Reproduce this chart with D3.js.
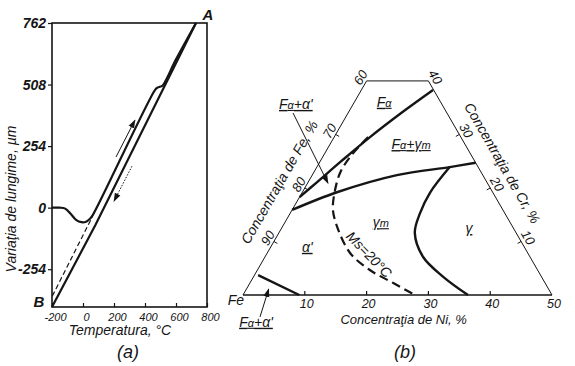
<!DOCTYPE html>
<html>
<head>
<meta charset="utf-8">
<style>
  body { margin: 0; background: #fff; }
  svg { display: block; font-family: "Liberation Sans", Arial, sans-serif; font-style: italic; }
</style>
<script src="https://d3js.org/d3.v7.min.js"></script>
</head>
<body>
<svg id="fig" width="575" height="366"></svg>
<script>
// ---- panel (a): dilatometer curve ----
const tempTicks = [-200, 0, 200, 400, 600, 800];
const lenTicks = [-254, 0, 254, 508, 762];
// heating: starts at B level 0, dip near 0 C, straight, small step near 480 C, ends at A
const heating = [[-200, 0], [-150, 0], [-115, -4], [-80, -25], [-45, -50], [-10, -60], [20, -58],
                 [45, -46], [62, -32], [465, 486], [480, 495], [496, 499], [512, 503], [600, 612], [729, 762]];
const cooling = [[729, 762], [80, -72], [-200, -410]];
const dashedExt = [[-198, -365], [60, -38]];
const upArrow = [[213, 209], [335, 361]];
const downArrow = [[316, 171], [200, 27]];

// ---- panel (b): Fe-Cr-Ni section, points as [Ni %, Cr %] ----
const niTicks = [10, 20, 30, 40, 50];
const crTicks = [10, 20, 30, 40];
const feTicks = [90, 80, 70, 60];
const outline = [[0, 0], [50, 0], [10, 40], [0, 40]];
const faLine = [[11.6, 38.3], [8.6, 34], [5.8, 29.5], [3.4, 25], [1.4, 21], [0, 18.3]];
const gmLine = [[25.3, 24.7], [21.5, 23.9], [13.7, 22.4], [5.6, 19.2], [0, 15.9]];
const msLine = [[5.5, 29.5], [4.5, 26.2], [4.3, 22.8], [5.4, 18.7], [6.6, 15.9], [8.9, 12.7],
                [13.4, 7.85], [18.2, 4.67], [23.2, 2.24], [27.8, 0]];
const gammaLine = [[21.5, 23.9], [20.7, 19.1], [21.0, 15.3], [22.0, 11.6], [25.6, 7.1], [30.7, 3.4], [36.4, 0]];
const smallLine = [[0.6, 3.7], [9.1, 0]];
const bArrows = [[[-8.9, 34.0], [3.3, 20.9]], [[4.8, -4.1], [3.6, 1.1]]];
const regionLabels = [
  {parts: [['F'], ['α', 'sub']], at: [4.8, 36.1]},
  {parts: [['F'], ['α', 'sub'], ['+'], ['γ'], ['m', 'sub']], at: [13.1, 28.2]},
  {parts: [['γ'], ['m', 'sub']], at: [15.5, 13.6]},
  {parts: [['γ']], at: [30.3, 12.5]},
  {parts: [['α\'']], at: [5.9, 9.0]},
  {parts: [['F'], ['α', 'sub'], ['+'], ['α\'']], at: [-9.3, 35.7]},
  {parts: [['F'], ['α', 'sub'], ['+'], ['α\'']], at: [4.6, -5.0]}
];

const svg = d3.select('#fig');
const ink = '#151515';

svg.append('defs').append('marker')
  .attr('id', 'arr').attr('viewBox', '0 -4 10 8').attr('refX', 9).attr('refY', 0)
  .attr('markerUnits', 'userSpaceOnUse').attr('markerWidth', 9).attr('markerHeight', 7)
  .attr('orient', 'auto')
  .append('path').attr('d', 'M0,-3.5L10,0L0,3.5Z').attr('fill', ink);

// ---------- (a) ----------
const xA = d3.scaleLinear().domain([-200, 800]).range([52, 207]);
const yA = d3.scaleLinear().domain([-410, 762]).range([307, 23]);
const gA = svg.append('g');

gA.append('rect')
  .attr('x', xA(-200)).attr('y', yA(762))
  .attr('width', xA(800) - xA(-200)).attr('height', yA(-410) - yA(762))
  .attr('fill', 'none').attr('stroke', ink).attr('stroke-width', 1.6);

const axL = gA.append('g').attr('transform', `translate(${xA(-200)},0)`)
  .call(d3.axisLeft(yA).tickValues(lenTicks).tickSize(4).tickPadding(2).tickFormat(d => String(d)));
axL.select('.domain').remove();
axL.attr('font-family', null).attr('font-size', null);
axL.selectAll('line').attr('stroke', ink).attr('stroke-width', 1.2);
axL.selectAll('text').attr('font-size', 14).attr('font-weight', 'bold').attr('fill', ink);

const axB = gA.append('g').attr('transform', `translate(0,${yA(-410)})`)
  .call(d3.axisBottom(xA).tickValues(tempTicks).tickSize(-4).tickPadding(6).tickFormat(d => String(d)));
axB.select('.domain').remove();
axB.attr('font-family', null).attr('font-size', null);
axB.selectAll('line').attr('stroke', ink).attr('stroke-width', 1.2);
axB.selectAll('text').attr('font-size', 11).attr('dx', 3).attr('fill', ink);

const lineA = d3.line().x(d => xA(d[0])).y(d => yA(d[1]));
gA.append('path').datum(dashedExt).attr('d', lineA)
  .attr('fill', 'none').attr('stroke', ink).attr('stroke-width', 1.2).attr('stroke-dasharray', '5,3');
gA.append('path').datum(heating).attr('d', d3.line().x(d => xA(d[0])).y(d => yA(d[1])).curve(d3.curveCatmullRom))
  .attr('fill', 'none').attr('stroke', ink).attr('stroke-width', 2.2);
gA.append('path').datum(cooling).attr('d', lineA)
  .attr('fill', 'none').attr('stroke', ink).attr('stroke-width', 2.2);
gA.append('path').datum(upArrow).attr('d', lineA)
  .attr('fill', 'none').attr('stroke', ink).attr('stroke-width', 1).attr('marker-end', 'url(#arr)');
gA.append('path').datum(downArrow).attr('d', lineA)
  .attr('fill', 'none').attr('stroke', ink).attr('stroke-width', 1).attr('stroke-dasharray', '1.5,1.5')
  .attr('marker-end', 'url(#arr)');

gA.append('text').attr('x', xA(729) + 12).attr('y', yA(762) - 3).attr('text-anchor', 'middle')
  .attr('font-size', 15).attr('font-weight', 'bold').attr('fill', ink).text('A');
gA.append('text').attr('x', xA(-200) - 13).attr('y', yA(-410)).attr('text-anchor', 'middle')
  .attr('font-size', 15).attr('font-weight', 'bold').attr('fill', ink).text('B');
gA.append('text').attr('transform', `translate(16,${(yA(762) + yA(-410)) / 2 + 34}) rotate(-90)`)
  .attr('text-anchor', 'middle').attr('font-size', 14).attr('fill', ink).text('Variaţia de lungime, µm');
gA.append('text').attr('x', 120).attr('y', 335).attr('text-anchor', 'middle')
  .attr('font-size', 14).attr('fill', ink).text('Temperatura, °C');
gA.append('text').attr('x', 128).attr('y', 358).attr('text-anchor', 'middle')
  .attr('font-size', 18).attr('fill', ink).text('(a)');

// ---------- (b) ----------
const sB = d3.scaleLinear().domain([0, 50]).range([0, 309]);
const ox = 243, oy = 295, H = Math.sqrt(3) / 2;
const tern = (ni, cr) => [ox + sB(ni + cr / 2), oy - sB(cr) * H];
const lineB = d3.line().x(d => tern(d[0], d[1])[0]).y(d => tern(d[0], d[1])[1]);
const gB = svg.append('g');

// outline: thin sides, heavier base
gB.append('path').datum([outline[1], outline[2], outline[3], outline[0]]).attr('d', lineB)
  .attr('fill', 'none').attr('stroke', ink).attr('stroke-width', 1);
gB.append('path').datum([outline[0], outline[1]]).attr('d', lineB)
  .attr('fill', 'none').attr('stroke', ink).attr('stroke-width', 1.6);

// ticks
niTicks.filter(n => n < 50).forEach(n => {
  const p = tern(n, 0);
  gB.append('line').attr('x1', p[0]).attr('y1', p[1]).attr('x2', p[0]).attr('y2', p[1] - 4)
    .attr('stroke', ink).attr('stroke-width', 1.2);
});
niTicks.forEach(n => {
  const p = tern(n, 0);
  gB.append('text').attr('x', p[0] + 2).attr('y', p[1] + 13).attr('text-anchor', 'middle')
    .attr('font-size', 12.5).attr('fill', ink).text(n);
});
feTicks.forEach(f => {
  const p = tern(0, 100 - f);
  if (f > 60) gB.append('line').attr('x1', p[0]).attr('y1', p[1])
    .attr('x2', p[0] + 0.866 * 4).attr('y2', p[1] + 0.5 * 4).attr('stroke', ink).attr('stroke-width', 1);
  const q = [p[0] - 0.866 * 7, p[1] - 0.5 * 7];
  gB.append('text').attr('transform', `translate(${q[0]},${q[1]}) rotate(-60)`)
    .attr('text-anchor', 'middle').attr('dominant-baseline', 'central')
    .attr('font-size', 13).attr('fill', ink).text(f);
});
crTicks.forEach(c => {
  const p = tern(50 - c, c);
  if (c < 40) gB.append('line').attr('x1', p[0]).attr('y1', p[1])
    .attr('x2', p[0] - 0.866 * 4).attr('y2', p[1] + 0.5 * 4).attr('stroke', ink).attr('stroke-width', 1);
  const q = [p[0] + 0.866 * 8, p[1] - 0.5 * 8];
  gB.append('text').attr('transform', `translate(${q[0]},${q[1]}) rotate(60)`)
    .attr('text-anchor', 'middle').attr('dominant-baseline', 'central')
    .attr('font-size', 13).attr('fill', ink).text(c);
});

// boundaries
const curve = d3.line().x(d => tern(d[0], d[1])[0]).y(d => tern(d[0], d[1])[1]).curve(d3.curveCatmullRom);
[faLine, gmLine, gammaLine].forEach(l => {
  gB.append('path').datum(l).attr('d', curve).attr('fill', 'none')
    .attr('stroke', ink).attr('stroke-width', 2.4);
});
gB.append('path').datum(smallLine).attr('d', lineB).attr('fill', 'none')
  .attr('stroke', ink).attr('stroke-width', 2.4);
gB.append('path').datum(msLine).attr('d', curve).attr('fill', 'none')
  .attr('stroke', ink).attr('stroke-width', 2.2).attr('stroke-dasharray', '9,5');
bArrows.forEach(a => {
  gB.append('path').datum(a).attr('d', lineB).attr('fill', 'none')
    .attr('stroke', ink).attr('stroke-width', 1).attr('marker-end', 'url(#arr)');
});

// region labels
regionLabels.forEach(l => {
  const p = tern(l.at[0], l.at[1]);
  const t = gB.append('text').attr('x', p[0]).attr('y', p[1] + 5).attr('text-anchor', 'middle')
    .attr('font-size', 14).attr('fill', ink).attr('text-decoration', 'underline');
  l.parts.forEach(pt => {
    const s = t.append('tspan').text(pt[0]);
    if (pt[1] === 'sub') s.attr('font-size', 11);
  });
});

// Ms label along dashed curve
const ms = tern(16.6, 7.6);
gB.append('text').attr('transform', `translate(${ms[0]},${ms[1]}) rotate(46)`)
  .attr('text-anchor', 'middle').attr('dominant-baseline', 'central')
  .attr('font-size', 14).attr('fill', ink).text('Ms=20°C');

// edge titles
const lt = tern(0, 18.75);
gB.append('text').attr('transform', `translate(${lt[0] - 0.866 * 25},${lt[1] - 0.5 * 25}) rotate(-60)`)
  .attr('text-anchor', 'middle').attr('dominant-baseline', 'central')
  .attr('font-size', 14).attr('fill', ink).text('Concentraţia de Fe, %');
const rt = tern(27.5, 22.5);
gB.append('text').attr('transform', `translate(${rt[0] + 0.866 * 23},${rt[1] - 0.5 * 23}) rotate(60)`)
  .attr('text-anchor', 'middle').attr('dominant-baseline', 'central')
  .attr('font-size', 14).attr('fill', ink).text('Concentraţia de Cr, %');
const bt = tern(26, 0);
gB.append('text').attr('x', bt[0]).attr('y', oy + 29).attr('text-anchor', 'middle')
  .attr('font-size', 13).attr('fill', ink).text('Concentraţia de Ni, %');
gB.append('text').attr('x', ox + 1).attr('y', oy + 10).attr('text-anchor', 'end')
  .attr('font-size', 14).attr('fill', ink).text('Fe');
gB.append('text').attr('x', 405).attr('y', 358).attr('text-anchor', 'middle')
  .attr('font-size', 18).attr('fill', ink).text('(b)');
</script>
</body>
</html>
